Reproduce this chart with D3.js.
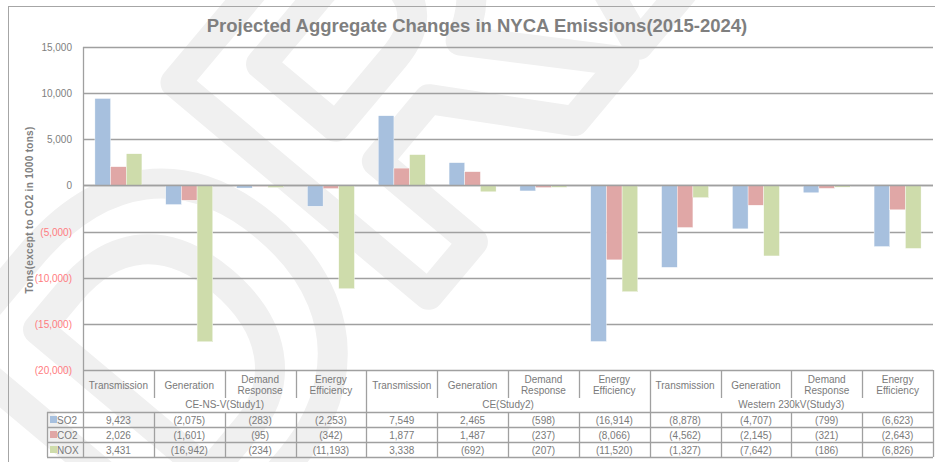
<!DOCTYPE html>
<html>
<head>
<style>
  body{
    margin: 0;
    background: white;
    font-family: 'Liberation Sans', Arial, sans-serif;
  }
</style>
<script src="https://cdn.jsdelivr.net/npm/d3@7"></script>
</head>
<body>
<svg id='svgVis'></svg>
<script>

var categories = ["Transmission", "Generation", "Demand Response", "Energy Efficiency",
                  "Transmission", "Generation", "Demand Response", "Energy Efficiency",
                  "Transmission", "Generation", "Demand Response", "Energy Efficiency"];
var groups = ["CE-NS-V(Study1)", "CE(Study2)", "Western 230kV(Study3)"];
var seriesNames = ["SO2", "CO2", "NOX"];

var so2 = [9423, -2075, -283, -2253, 7549, 2465, -598, -16914, -8878, -4707, -799, -6623];
var co2 = [2026, -1601, -95, -342, 1877, 1487, -237, -8066, -4562, -2145, -321, -2643];
var nox = [3431, -16942, -234, -11193, 3338, -692, -207, -11520, -1327, -7642, -186, -6826];

var yTicks = [15000, 10000, 5000, 0, -5000, -10000, -15000, -20000];

var colors = {SO2: "#a7c0de", CO2: "#e0a7a6", NOX: "#cedcab"};
var seriesData = {SO2: so2, CO2: co2, NOX: nox};

var width = 935, height = 462;
var margin = {top: 47, left: 83};
var plotRight = 933, plotBottom = 370;
var textGray = "#7a7a7a";

var svg = d3.select("#svgVis")
    .attr("width", width)
    .attr("height", height);

// faint outlined DRAFT watermark behind everything
svg.append("text")
    .attr("transform", "translate(185,585) rotate(-50)")
    .style("font-size", "480px")
    .style("font-weight", "bold")
    .style("font-family", "'Liberation Sans', Arial, sans-serif")
    .style("fill", "none")
    .style("stroke", "#f0f0f0")
    .style("stroke-width", 30)
    .style("stroke-linejoin", "round")
    .text("DRAFT");

// outer border (cropped at right/bottom)
svg.append("rect")
    .attr("x", 8.5).attr("y", 6.5)
    .attr("width", 940).attr("height", 470)
    .style("fill", "none")
    .style("stroke", "#a6a6a6");

svg.append("text")
    .attr("x", 477).attr("y", 32)
    .attr("text-anchor", "middle")
    .style("font-size", "18.5px")
    .style("font-weight", "bold")
    .style("fill", "#7f7f7f")
    .text("Projected Aggregate Changes in NYCA Emissions(2015-2024)");

var y = d3.scaleLinear()
    .domain([-20000, 15000])
    .range([plotBottom, margin.top]);

var x0 = d3.scaleBand()
    .domain(d3.range(categories.length))
    .range([margin.left, plotRight])
    .padding(0);

var x1 = d3.scaleBand()
    .domain(seriesNames)
    .range([0, x0.bandwidth()])
    .paddingInner(0)
    .paddingOuter(0.76);

function fmt(v) {
  if (v < 0) return "(" + d3.format(",")(-v) + ")";
  return d3.format(",")(v);
}

// gridlines
svg.append("g").selectAll("line")
    .data(yTicks)
    .enter().append("line")
    .attr("x1", margin.left).attr("x2", plotRight)
    .attr("y1", function(d) { return Math.round(y(d)) + 0.5; })
    .attr("y2", function(d) { return Math.round(y(d)) + 0.5; })
    .style("stroke", "#a0a0a0")
    .style("stroke-width", 1.3);

// y tick labels
svg.append("g").selectAll("text")
    .data(yTicks)
    .enter().append("text")
    .attr("x", 72)
    .attr("y", function(d) { return y(d) + 4; })
    .attr("text-anchor", "end")
    .style("font-size", "10px")
    .style("fill", function(d) { return d < 0 ? "#ff7c80" : "#808080"; })
    .text(function(d) { return fmt(d); });

svg.append("text")
    .attr("transform", "translate(33,210) rotate(-90)")
    .attr("text-anchor", "middle")
    .style("font-size", "10px")
    .style("font-weight", "bold")
    .style("letter-spacing", "0.3px")
    .style("fill", "#808080")
    .text("Tons(except to CO2 in 1000 tons)");

// bars
var catG = svg.append("g").selectAll("g")
    .data(categories)
    .enter().append("g")
    .attr("transform", function(d, i) { return "translate(" + x0(i) + ",0)"; });

catG.selectAll("rect")
    .data(function(d, i) {
      return seriesNames.map(function(s) { return {key: s, value: seriesData[s][i]}; });
    })
    .enter().append("rect")
    .attr("x", function(d) { return x1(d.key); })
    .attr("width", x1.bandwidth())
    .attr("y", function(d) { return y(Math.max(0, d.value)); })
    .attr("height", function(d) { return Math.abs(y(d.value) - y(0)); })
    .style("fill", function(d) { return colors[d.key]; })
    .style("stroke", "#ffffff")
    .style("stroke-width", 0.4);

// zero line on top of bars
svg.append("line")
    .attr("x1", margin.left).attr("x2", plotRight)
    .attr("y1", Math.round(y(0)) + 0.5).attr("y2", Math.round(y(0)) + 0.5)
    .style("stroke", "#a0a0a0")
    .style("stroke-width", 1.3);

// data table under the plot
var lineColor = "#a0a0a0";
var rowTop = 412, rowH = 15;
var table = svg.append("g");

function hline(xa, xb, yv) {
  table.append("line").attr("x1", xa).attr("x2", xb)
      .attr("y1", yv + 0.5).attr("y2", yv + 0.5)
      .style("stroke", lineColor).style("stroke-width", 1.3);
}
function vline(xv, ya, yb) {
  table.append("line").attr("x1", Math.round(xv) + 0.5).attr("x2", Math.round(xv) + 0.5)
      .attr("y1", ya).attr("y2", yb)
      .style("stroke", lineColor).style("stroke-width", 1.3);
}

vline(margin.left, margin.top, rowTop + rowH * 3);

var bounds = d3.range(categories.length + 1).map(function(i) {
  return i < categories.length ? x0(i) : plotRight;
});
bounds.forEach(function(b, i) {
  if (i === 0) return;
  var isGroup = (i % 4 === 0);
  vline(b, plotBottom, isGroup ? rowTop + rowH * 3 : 398);
  if (!isGroup) vline(b, rowTop, rowTop + rowH * 3);
});

for (var r = 0; r <= 3; r++) hline(47, plotRight, rowTop + r * rowH);
vline(47, rowTop, rowTop + rowH * 3);

// category labels
categories.forEach(function(c, i) {
  var cx = x0(i) + x0.bandwidth() / 2;
  var words = c.split(" ");
  var t = svg.append("text")
      .attr("text-anchor", "middle")
      .style("font-size", "10px")
      .style("fill", textGray);
  if (words.length === 1) {
    t.attr("x", cx).attr("y", 389).text(c);
  } else {
    t.append("tspan").attr("x", cx).attr("y", 383).text(words[0]);
    t.append("tspan").attr("x", cx).attr("y", 394).text(words[1]);
  }
});

groups.forEach(function(g, i) {
  var gx = (x0(i * 4) + bounds[i * 4 + 4]) / 2;
  svg.append("text")
      .attr("x", gx).attr("y", 408)
      .attr("text-anchor", "middle")
      .style("font-size", "10px")
      .style("fill", textGray)
      .text(g);
});

// data rows with legend keys
seriesNames.forEach(function(s, r) {
  var ry = rowTop + r * rowH;
  svg.append("rect")
      .attr("x", 50).attr("y", ry + 4)
      .attr("width", 7).attr("height", 7)
      .style("fill", colors[s]);
  svg.append("text")
      .attr("x", 57).attr("y", ry + 11.5)
      .style("font-size", "10px")
      .style("fill", textGray)
      .text(s);
  seriesData[s].forEach(function(v, i) {
    svg.append("text")
        .attr("x", x0(i) + x0.bandwidth() / 2)
        .attr("y", ry + 11.5)
        .attr("text-anchor", "middle")
        .style("font-size", "10px")
        .style("fill", textGray)
        .text(fmt(v));
  });
});

</script>
</body>
</html>
